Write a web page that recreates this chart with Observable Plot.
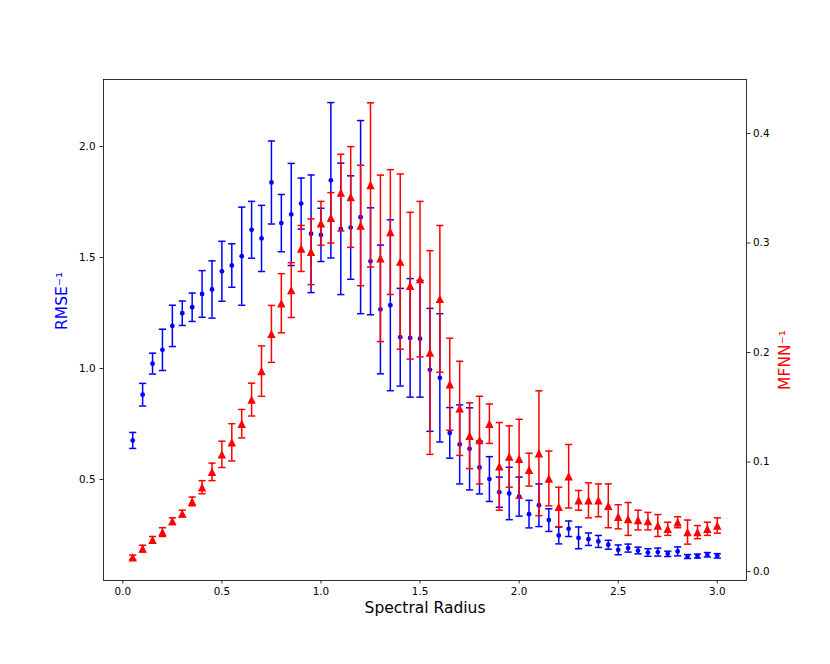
<!DOCTYPE html>
<html><head><meta charset="utf-8">
<script src="https://cdn.jsdelivr.net/npm/d3@7"></script>
<script src="https://cdn.jsdelivr.net/npm/@observablehq/plot@0.6"></script>
<style>
body{margin:0;background:#fff;}
#chart{position:relative;width:830px;height:664px;}
#chart svg{position:absolute;left:0;top:0;}
</style></head><body><div id="chart"></div>
<script>
const radius = [0.05,0.10,0.15,0.20,0.25,0.30,0.35,0.40,0.45,0.50,0.55,0.60,0.65,0.70,0.75,0.80,0.85,0.90,0.95,1.00,
  1.05,1.10,1.15,1.20,1.25,1.30,1.35,1.40,1.45,1.50,1.55,1.60,1.65,1.70,1.75,1.80,1.85,1.90,1.95,2.00,
  2.05,2.10,2.15,2.20,2.25,2.30,2.35,2.40,2.45,2.50,2.55,2.60,2.65,2.70,2.75,2.80,2.85,2.90,2.95,3.00];
const rmseInv = [0.676,0.882,1.022,1.084,1.192,1.249,1.276,1.336,1.356,1.438,1.464,1.506,1.625,1.586,1.838,1.655,1.694,1.743,1.607,1.602,
  1.848,1.629,1.635,1.682,1.483,1.266,1.285,1.141,1.138,1.134,0.994,0.958,0.710,0.658,0.638,0.554,0.502,0.443,0.437,0.423,
  0.344,0.384,0.317,0.248,0.278,0.237,0.231,0.221,0.206,0.183,0.191,0.180,0.171,0.173,0.165,0.176,0.153,0.155,0.161,0.156];
const rmseErr = [0.036,0.051,0.047,0.093,0.093,0.055,0.064,0.105,0.129,0.135,0.098,0.221,0.128,0.149,0.187,0.129,0.230,0.115,0.265,0.120,
  0.350,0.296,0.233,0.435,0.241,0.290,0.385,0.220,0.267,0.263,0.277,0.289,0.114,0.178,0.185,0.119,0.101,0.068,0.118,0.088,
  0.062,0.096,0.051,0.038,0.035,0.049,0.028,0.027,0.020,0.022,0.018,0.015,0.017,0.018,0.012,0.020,0.009,0.009,0.010,0.010];
const mfnnInv = [0.013,0.021,0.029,0.036,0.046,0.053,0.064,0.077,0.091,0.107,0.118,0.135,0.157,0.183,0.217,0.245,0.257,0.295,0.292,0.318,
  0.323,0.346,0.342,0.316,0.353,0.286,0.310,0.283,0.261,0.267,0.200,0.249,0.171,0.149,0.124,0.120,0.135,0.096,0.105,0.103,
  0.093,0.108,0.085,0.059,0.087,0.065,0.065,0.065,0.060,0.050,0.048,0.047,0.046,0.042,0.039,0.045,0.036,0.036,0.039,0.042];
const mfnnErr = [0.002,0.003,0.003,0.004,0.003,0.003,0.004,0.006,0.008,0.012,0.017,0.013,0.015,0.023,0.026,0.027,0.025,0.021,0.030,0.020,
  0.023,0.035,0.046,0.055,0.075,0.076,0.057,0.080,0.067,0.071,0.093,0.067,0.042,0.043,0.030,0.040,0.018,0.040,0.028,0.036,
  0.015,0.057,0.025,0.018,0.029,0.009,0.016,0.015,0.020,0.011,0.015,0.009,0.008,0.010,0.006,0.005,0.011,0.006,0.006,0.007];
const xTicks = [0.0,0.5,1.0,1.5,2.0,2.5,3.0];
const leftTicks = [0.5,1.0,1.5,2.0];
const rightTicks = [0.0,0.1,0.2,0.3,0.4];

const blueRows = radius.map((x,i)=>({x, y:rmseInv[i], lo:rmseInv[i]-rmseErr[i], hi:rmseInv[i]+rmseErr[i]}));
const redRows = radius.map((x,i)=>({x, y:mfnnInv[i], lo:mfnnInv[i]-mfnnErr[i], hi:mfnnInv[i]+mfnnErr[i]}));

const capSymbol = {draw(ctx,size){const h=Math.sqrt(size/Math.PI);ctx.moveTo(-h,0);ctx.lineTo(h,0);}};
const triSymbol = {draw(ctx,size){const h=Math.sqrt(size/Math.PI);ctx.moveTo(0,-h);ctx.lineTo(-h,h);ctx.lineTo(h,h);ctx.closePath();}};

const BLUE="#0000ff", RED="#ff0000";
const base = {
  width:830, height:664, marginTop:79, marginRight:84, marginBottom:84, marginLeft:103,
  style:{fontFamily:"DejaVu Sans", fontSize:"10.4px", color:"black", background:"transparent", overflow:"visible"}
};
const xDomain = [-0.0975, 3.1475];

function errMarks(rows, color){
  return [
    Plot.ruleX(rows,{x:"x", y1:"lo", y2:"hi", stroke:color, strokeWidth:1.5}),
    Plot.dot(rows,{x:"x", y:"lo", symbol:capSymbol, r:3.6, stroke:color, strokeWidth:1.5, fill:"none"}),
    Plot.dot(rows,{x:"x", y:"hi", symbol:capSymbol, r:3.6, stroke:color, strokeWidth:1.5, fill:"none"})
  ];
}

const left = Plot.plot({
  ...base,
  x:{domain:xDomain},
  y:{domain:[0.045,2.302]},
  marks:[
    Plot.frame({stroke:"black", strokeWidth:0.8}),
    Plot.axisX({ticks:xTicks, tickFormat:d3.format(".1f"), tickSize:3.5, tickPadding:4, strokeWidth:0.8, label:null}),
    Plot.axisY({anchor:"left", ticks:leftTicks, tickFormat:d3.format(".1f"), tickSize:3.5, tickPadding:4.5, strokeWidth:0.8, label:null}),
    ...errMarks(blueRows, BLUE),
    Plot.dot(blueRows,{x:"x", y:"y", r:2.4, fill:BLUE, stroke:"none"}),
    Plot.text(["Spectral Radius"],{text:d=>d, frameAnchor:"bottom", dy:32, fontSize:15.5, fill:"black"}),
    Plot.text(["RMSE\u207B\u00B9"],{text:d=>d, frameAnchor:"left", rotate:-90, dx:-41, fontSize:15.5, fill:BLUE})
  ]
});

const right = Plot.plot({
  ...base,
  x:{domain:xDomain, axis:null},
  y:{domain:[-0.0082,0.4493]},
  marks:[
    Plot.axisY({anchor:"right", ticks:rightTicks, tickFormat:d3.format(".1f"), tickSize:3.5, tickPadding:3, strokeWidth:0.8, label:null}),
    ...errMarks(redRows, RED),
    Plot.dot(redRows,{x:"x", y:"y", symbol:triSymbol, r:4.2, fill:RED, stroke:"none"}),
    Plot.text(["MFNN\u207B\u00B9"],{text:d=>d, frameAnchor:"right", rotate:-90, dx:39, fontSize:15.5, fill:RED})
  ]
});

const el = document.getElementById("chart");
el.appendChild(left);
el.appendChild(right);
</script>
</body></html>
